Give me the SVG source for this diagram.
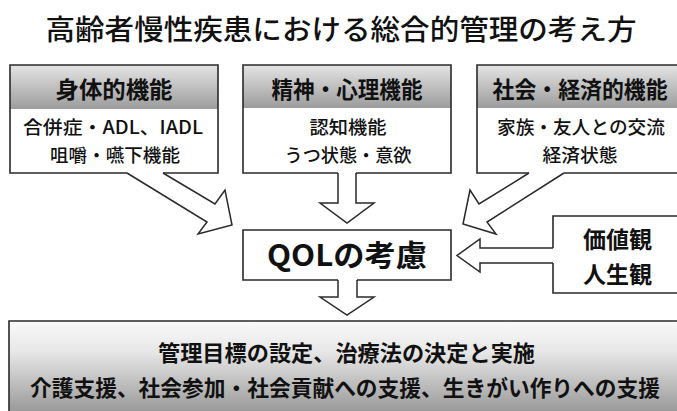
<svg xmlns="http://www.w3.org/2000/svg" width="677" height="411" viewBox="0 0 677 411">
<defs>
<linearGradient id="hdr" x1="0" y1="0" x2="0" y2="1">
<stop offset="0" stop-color="#e4e4e4"/>
<stop offset="1" stop-color="#9c9c9c"/>
</linearGradient>
<linearGradient id="btm" x1="0" y1="0" x2="0" y2="1">
<stop offset="0" stop-color="#fafafa"/>
<stop offset="0.35" stop-color="#e6e6e6"/>
<stop offset="1" stop-color="#9a9a9a"/>
</linearGradient>
<style>
text{font-family:"Noto Sans CJK JP","Noto Sans",sans-serif;fill:#111;text-anchor:middle}
.title{font-size:28px;font-weight:500}
.hd{font-size:23px;font-weight:700}
.bd{font-size:18.5px;font-weight:500}
.big{font-size:30px;font-weight:700}
.val{font-size:23px;font-weight:700}
.mg{font-size:22px;font-weight:700}
.edge{fill:none;stroke:#2a2a2a;stroke-width:1.6;stroke-linejoin:miter}
.arrow{fill:#fff;stroke:#2a2a2a;stroke-width:1.5;stroke-linejoin:miter}
</style>
</defs>
<rect width="677" height="411" fill="#fff"/>
<g id="title">
<text class="title" x="341" y="40" textLength="591" lengthAdjust="spacingAndGlyphs">高齢者慢性疾患における総合的管理の考え方</text>
</g>
<g id="node-physical">
<rect x="10" y="65" width="208" height="108" fill="#fff"/>
<rect x="10" y="65" width="208" height="44" fill="url(#hdr)"/>
<path class="edge" d="M127,173 H10 V65 H218 V173 H163"/>
<text class="hd" x="114" y="97.5" textLength="117" lengthAdjust="spacingAndGlyphs">身体的機能</text>
<text class="bd" x="113" y="134" textLength="180" lengthAdjust="spacingAndGlyphs">合併症・ADL、IADL</text>
<text class="bd" x="115" y="161.5" textLength="130" lengthAdjust="spacingAndGlyphs">咀嚼・嚥下機能</text>
</g>
<g id="node-mental">
<rect x="243" y="65" width="208" height="108" fill="#fff"/>
<rect x="243" y="65" width="208" height="43" fill="url(#hdr)"/>
<path class="edge" d="M338,173 H243 V65 H451 V173 H356"/>
<text class="hd" x="347" y="97.5" textLength="151" lengthAdjust="spacingAndGlyphs">精神・心理機能</text>
<text class="bd" x="348" y="134" textLength="77" lengthAdjust="spacingAndGlyphs">認知機能</text>
<text class="bd" x="348" y="161.5" textLength="127" lengthAdjust="spacingAndGlyphs">うつ状態・意欲</text>
</g>
<g id="node-social">
<rect x="477" y="65" width="200" height="108" fill="#fff"/>
<rect x="477" y="65" width="200" height="43" fill="url(#hdr)"/>
<path class="edge" d="M529,173 H477 V65 H677 M677,173 H564"/>
<text class="hd" x="580" y="97.5" textLength="175" lengthAdjust="spacingAndGlyphs">社会・経済的機能</text>
<text class="bd" x="581" y="134" textLength="168" lengthAdjust="spacingAndGlyphs">家族・友人との交流</text>
<text class="bd" x="580" y="161.5" textLength="75" lengthAdjust="spacingAndGlyphs">経済状態</text>
</g>
<g id="node-qol">
<rect x="243" y="230" width="208" height="50" fill="#fff"/>
<path class="edge" d="M338,280 H243 V230 H451 V280 H357"/>
<text class="big" x="347" y="266" textLength="160" lengthAdjust="spacingAndGlyphs">QOLの考慮</text>
</g>
<g id="node-values">
<rect x="553" y="216" width="124" height="77" fill="#fff"/>
<path class="edge" d="M553,248 V216 H677 M677,293 H553 V263"/>
<text class="val" x="617.5" y="247.5" textLength="69" lengthAdjust="spacingAndGlyphs">価値観</text>
<text class="val" x="617.5" y="282.5" textLength="69" lengthAdjust="spacingAndGlyphs">人生観</text>
</g>
<g id="node-management">
<rect x="9" y="321" width="668" height="90" fill="url(#btm)"/>
<path class="edge" d="M9,411 V321 H677"/>
<text class="mg" x="346.5" y="360.5" textLength="377" lengthAdjust="spacingAndGlyphs">管理目標の設定、治療法の決定と実施</text>
<text class="mg" x="345" y="395.5" textLength="630" lengthAdjust="spacingAndGlyphs">介護支援、社会参加・社会貢献への支援、生きがい作りへの支援</text>
</g>
<g id="connectors">
<path class="arrow" d="M127,173 L207,222 L198,234 L232,225 L225,190 L215,204 L163,173"/>
<path class="arrow" d="M338,173 V203 H320 L347,223 L374,203 H356 V173"/>
<path class="arrow" d="M564,173 L487,222 L496,234 L463,224 L470,190 L479,204 L529,173"/>
<path class="arrow" d="M553,248 H480 V239 L457,255.5 L480,272 V263 H553"/>
<path class="arrow" d="M338,280 V297 H320 L347,315 L374,297 H357 V280"/>
</g>
</svg>
